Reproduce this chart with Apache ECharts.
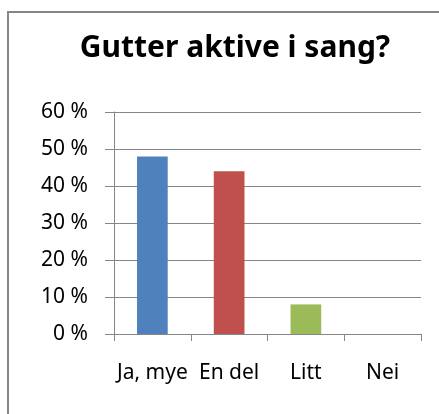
<!DOCTYPE html>
<html>
<head>
<meta charset="utf-8">
<script src="https://cdn.jsdelivr.net/npm/echarts@6/dist/echarts.min.js"></script>
<style>
  html, body { margin: 0; padding: 0; background: #fff; }
  #chart { width: 439px; height: 414px; }
</style>
</head>
<body>
<div id="chart"></div>
<script>
const categories = ['Ja, mye', 'En del', 'Litt', 'Nei'];
const values = [48, 44, 8, 0];
const barColors = ['#4F81BD', '#C0504D', '#9BBB59', '#8064A2'];

const chart = echarts.init(document.getElementById('chart'), null, { renderer: 'canvas' });

const option = {
  animation: false,
  backgroundColor: '#fff',
  title: {
    text: 'Gutter aktive i sang?',
    left: 230,
    textAlign: 'center',
    top: 28,
    textStyle: { fontFamily: 'Noto Sans', fontWeight: 'bold', fontSize: 30, color: '#000' }
  },
  graphic: [{
    type: 'rect',
    shape: { x: 8, y: 12, width: 460, height: 440 },
    style: { fill: 'none', stroke: '#868686', lineWidth: 2 },
    silent: true
  }],
  grid: { left: 114, right: 18, top: 112, bottom: 80 },
  xAxis: {
    type: 'category',
    data: categories,
    axisLine: { lineStyle: { color: '#868686', width: 1 } },
    axisTick: { show: true, length: 7, lineStyle: { color: '#868686' } },
    axisLabel: { interval: 0, margin: 29, color: '#000', fontFamily: 'Noto Sans', fontSize: 21 }
  },
  yAxis: {
    type: 'value',
    min: 0,
    max: 60,
    interval: 10,
    axisLine: { show: true, lineStyle: { color: '#868686', width: 1 } },
    axisTick: { show: true, length: 9, lineStyle: { color: '#868686' } },
    splitLine: { lineStyle: { color: '#868686', width: 1 } },
    axisLabel: {
      margin: 26,
      color: '#000',
      fontFamily: 'Noto Sans',
      fontSize: 21,
      formatter: function (v) { return v + ' %'; }
    }
  },
  series: [{
    type: 'bar',
    data: values.map(function (v, i) {
      return { value: v, itemStyle: { color: barColors[i] } };
    }),
    barWidth: '40%'
  }]
};

chart.setOption(option);
</script>
</body>
</html>
